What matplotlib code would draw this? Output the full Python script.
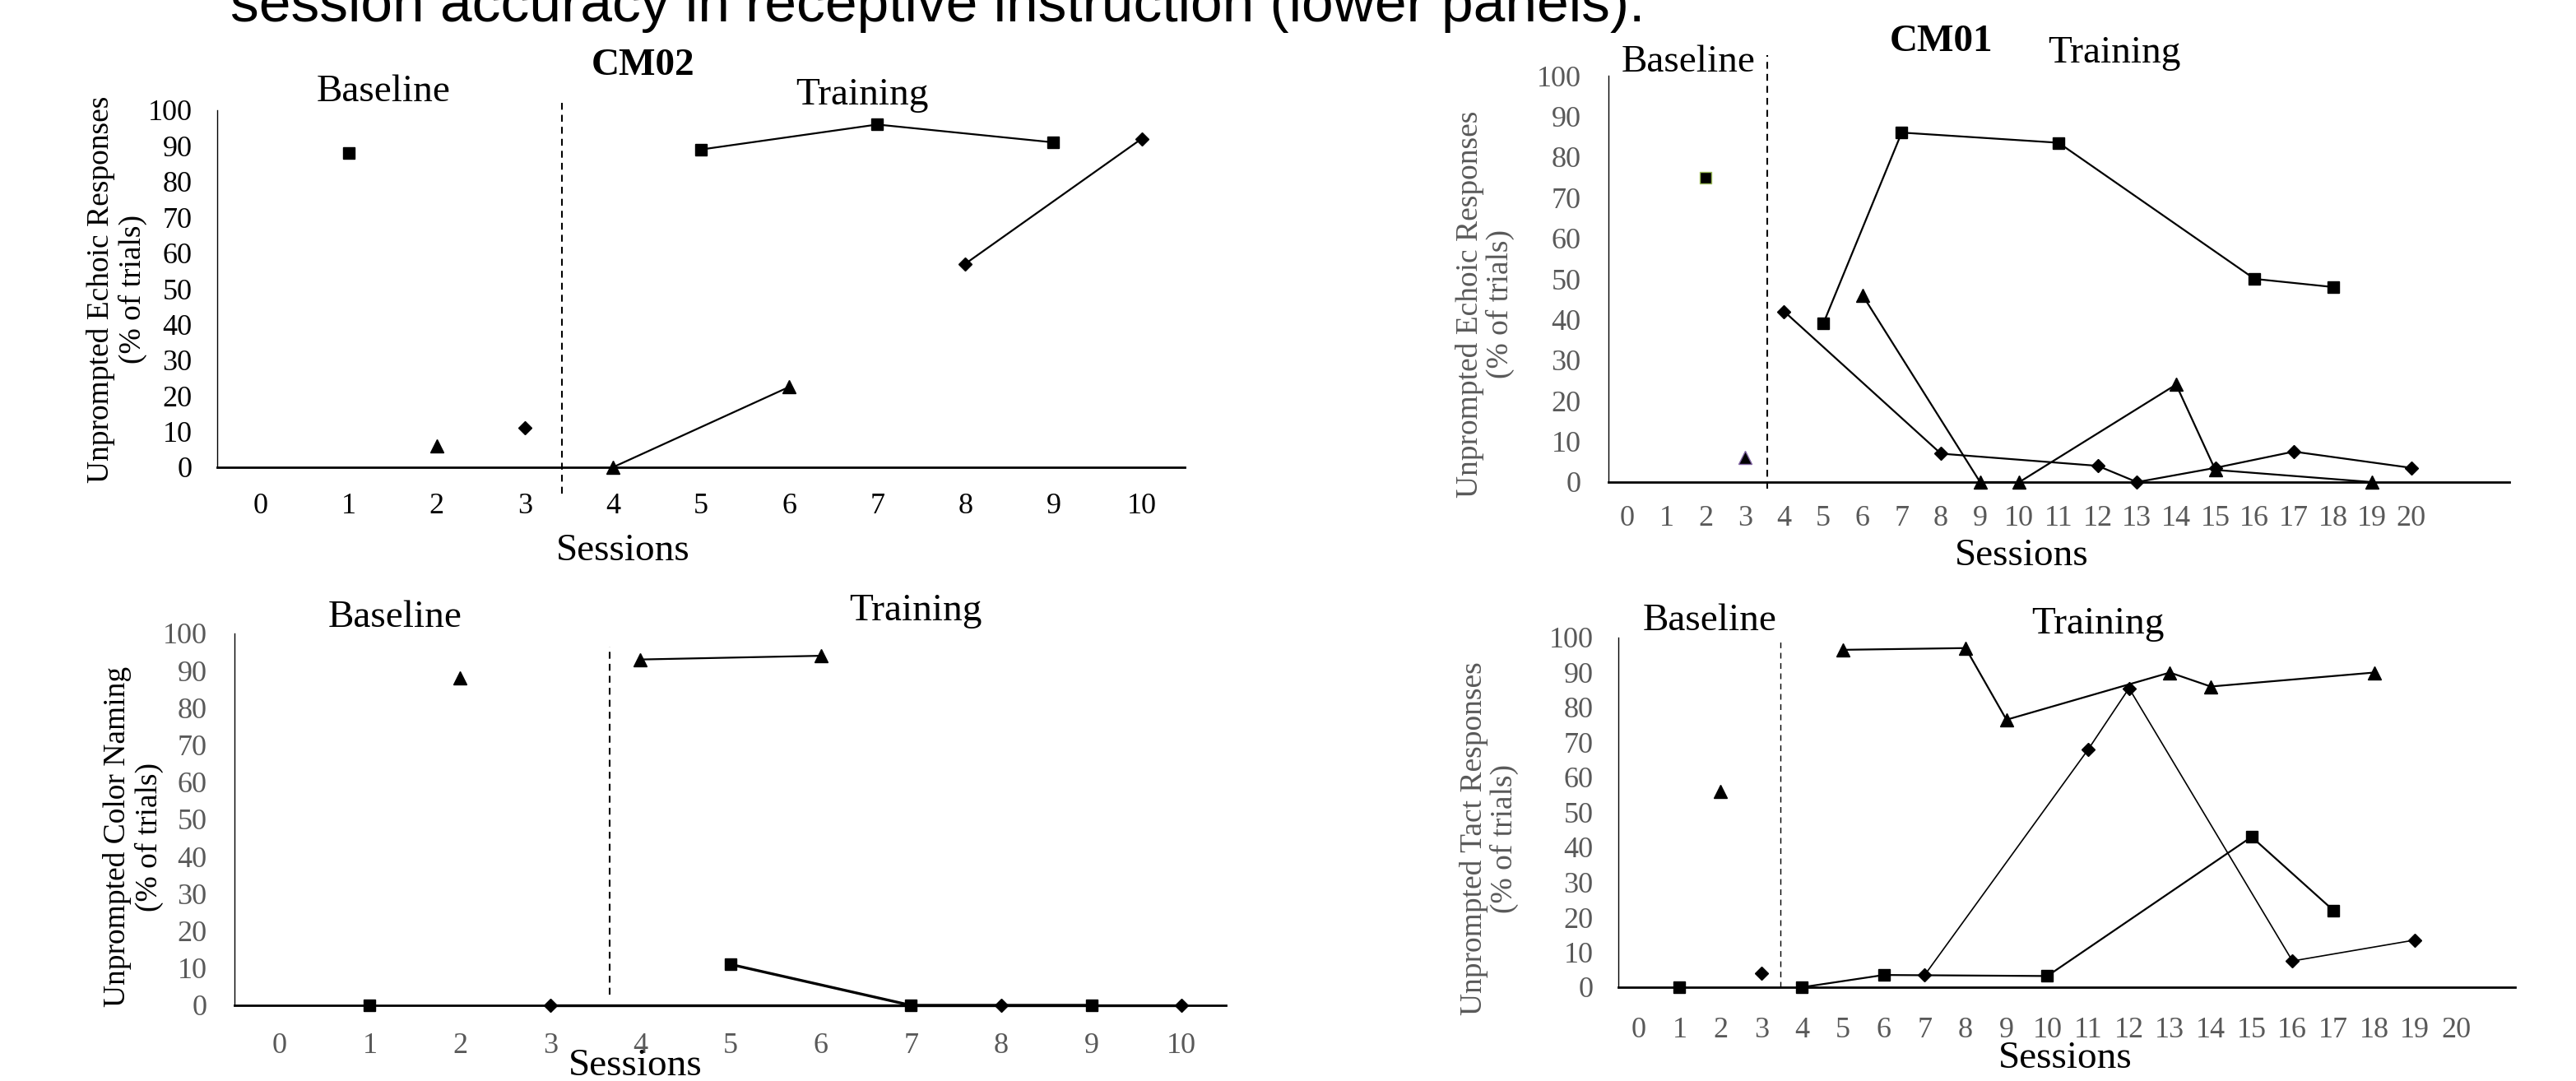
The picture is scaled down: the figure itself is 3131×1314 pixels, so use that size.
import matplotlib
matplotlib.use("Agg")
import matplotlib.pyplot as plt

W, H = 3131, 1314

# ---- data: sessions and % of trials ----
# CM02 - echoic (top left)
cm02_echo_sq_bl_x = [1]
cm02_echo_sq_bl_y = [88]
cm02_echo_sq_x = [5, 7, 9]
cm02_echo_sq_y = [89, 96, 91]
cm02_echo_tri_bl_x = [2]
cm02_echo_tri_bl_y = [6]
cm02_echo_tri_x = [4, 6]
cm02_echo_tri_y = [0, 22.5]
cm02_echo_dia_bl_x = [3]
cm02_echo_dia_bl_y = [11]
cm02_echo_dia_x = [8, 10]
cm02_echo_dia_y = [57, 92]

# CM01 - echoic (top right)
cm01_echo_sq_bl_x = [2]
cm01_echo_sq_bl_y = [75]
cm01_echo_sq_x = [5, 7, 11, 16, 18]
cm01_echo_sq_y = [39, 86, 83.5, 50, 48]
cm01_echo_tri_bl_x = [3]
cm01_echo_tri_bl_y = [6]
cm01_echo_tri_x = [6, 9, 10, 14, 15, 19]
cm01_echo_tri_y = [46, 0, 0, 24, 3, 0]
cm01_echo_dia_x = [4, 8, 12, 13, 15, 17, 20]
cm01_echo_dia_y = [42, 7, 4, 0, 3.5, 7.5, 3.5]

# CM02 - color naming (bottom left)
cm02_col_sq_bl_x = [1]
cm02_col_sq_bl_y = [0]
cm02_col_sq_x = [5, 7, 9]
cm02_col_sq_y = [11, 0, 0]
cm02_col_tri_bl_x = [2]
cm02_col_tri_bl_y = [88]
cm02_col_tri_x = [4, 6]
cm02_col_tri_y = [93, 94]
# diamond line runs on from the baseline point at session 3
cm02_col_dia_x = [3, 8, 10]
cm02_col_dia_y = [0, 0, 0]

# CM01 - tact (bottom right)
cm01_tact_sq_bl_x = [1]
cm01_tact_sq_bl_y = [0]
cm01_tact_sq_x = [4, 6, 10, 15, 17]
cm01_tact_sq_y = [0, 3.5, 3.2, 43, 22]
cm01_tact_tri_bl_x = [2]
cm01_tact_tri_bl_y = [56]
cm01_tact_tri_x = [5, 8, 9, 13, 14, 18]
cm01_tact_tri_y = [96.5, 97, 76.5, 90, 86, 90]
cm01_tact_dia_bl_x = [3]
cm01_tact_dia_bl_y = [4]
cm01_tact_dia_x = [7, 11, 12, 16, 19]
cm01_tact_dia_y = [3.5, 68, 85.5, 7.5, 13.5]

yticks = list(range(0, 101, 10))
GRAY = '#595959'

plt.rcParams['font.family'] = 'Liberation Serif'

fig = plt.figure(figsize=(W / 100, H / 100), dpi=100)


def fx(px):
    return px / W


def fy(py):
    return 1 - py / H


def make_axes(left, right, top, bottom, xmin, xmax, nmax, tick_color, xpad, ypad):
    # axes box given in pixels of the final picture
    ax = fig.add_axes([fx(left), fy(bottom), fx(right - left), (bottom - top) / H])
    ax.set_xlim(xmin, xmax)
    ax.set_ylim(0, 100)
    for s in ['top', 'right']:
        ax.spines[s].set_visible(False)
    ax.spines['left'].set_linewidth(1.0)
    ax.spines['bottom'].set_linewidth(2.0)
    ax.set_xticks(range(0, nmax + 1))
    ax.set_yticks(yticks)
    ax.tick_params(length=0, labelsize=26, colors=tick_color)
    ax.tick_params(axis='x', pad=xpad)
    ax.tick_params(axis='y', pad=ypad)
    return ax


def line(ax, x, y, marker, ms, lw=1.6):
    ax.plot(x, y, color='black', lw=lw, marker=marker, ms=ms, mfc='black',
            mec='black', clip_on=False, zorder=3)


def point(ax, x, y, marker, ms, mec='black'):
    ax.plot(x, y, ls='none', marker=marker, ms=ms, mfc='black', mec=mec,
            clip_on=False, zorder=3)


SQ, TRI, DIA = 9.5, 11, 8.5

# ---- top left: CM02 echoic ----
ax1 = make_axes(264, 1440, 134, 568, -0.49, 10.49, 10, 'black', 22, 22)
ax1.axvline(3.42, ymin=-0.074, ymax=1.021, color='black', lw=1.5, dashes=(4, 3), clip_on=False)
point(ax1, cm02_echo_sq_bl_x, cm02_echo_sq_bl_y, 's', SQ)
point(ax1, cm02_echo_tri_bl_x, cm02_echo_tri_bl_y, '^', TRI)
point(ax1, cm02_echo_dia_bl_x, cm02_echo_dia_bl_y, 'D', DIA)
line(ax1, cm02_echo_sq_x, cm02_echo_sq_y, 's', SQ)
line(ax1, cm02_echo_tri_x, cm02_echo_tri_y, '^', TRI)
line(ax1, cm02_echo_dia_x, cm02_echo_dia_y, 'D', DIA)

# ---- top right: CM01 echoic ----
ax2 = make_axes(1955, 3050, 92, 586, -0.48, 22.5, 20, GRAY, 20, 24)
ax2.axvline(3.57, ymin=-0.016, ymax=1.05, color='black', lw=1.5, dashes=(4, 3), clip_on=False)
point(ax2, cm01_echo_sq_bl_x, cm01_echo_sq_bl_y, 's', SQ, mec='#9BBB59')
point(ax2, cm01_echo_tri_bl_x, cm01_echo_tri_bl_y, '^', TRI, mec='#8064A2')
line(ax2, cm01_echo_sq_x, cm01_echo_sq_y, 's', SQ)
line(ax2, cm01_echo_tri_x, cm01_echo_tri_y, '^', TRI)
line(ax2, cm01_echo_dia_x, cm01_echo_dia_y, 'D', DIA)

# ---- bottom left: CM02 color naming ----
ax3 = make_axes(285, 1490, 770, 1222, -0.50, 10.49, 10, GRAY, 24, 24)
ax3.axvline(3.66, ymin=0.029, ymax=0.965, color='black', lw=1.5, dashes=(4, 3), clip_on=False)
point(ax3, cm02_col_sq_bl_x, cm02_col_sq_bl_y, 's', SQ)
point(ax3, cm02_col_tri_bl_x, cm02_col_tri_bl_y, '^', TRI)
line(ax3, cm02_col_dia_x, cm02_col_dia_y, 'D', DIA, lw=2.4)
line(ax3, cm02_col_sq_x, cm02_col_sq_y, 's', SQ, lw=2.4)
line(ax3, cm02_col_tri_x, cm02_col_tri_y, '^', TRI)

# ---- bottom right: CM01 tact ----
ax4 = make_axes(1967, 3057, 775, 1200, -0.50, 21.45, 20, GRAY, 26, 22)
ax4.axvline(3.46, ymin=0, ymax=0.998, color='black', lw=1.0, dashes=(5, 4), clip_on=False)
point(ax4, cm01_tact_sq_bl_x, cm01_tact_sq_bl_y, 's', SQ)
point(ax4, cm01_tact_tri_bl_x, cm01_tact_tri_bl_y, '^', TRI)
point(ax4, cm01_tact_dia_bl_x, cm01_tact_dia_bl_y, 'D', DIA)
line(ax4, cm01_tact_tri_x, cm01_tact_tri_y, '^', TRI)
line(ax4, cm01_tact_dia_x, cm01_tact_dia_y, 'D', DIA, lw=1.2)
line(ax4, cm01_tact_sq_x, cm01_tact_sq_y, 's', SQ)


# ---- texts ----
def label(px, py, s, size=34, **kw):
    fig.text(fx(px), fy(py), s, ha='center', va='center', fontsize=size, **kw)


ylab = '\n(% of trials)'
label(782, 80, 'CM02', weight='bold')
label(466, 112, 'Baseline')
label(1048, 116, 'Training')
label(757, 670, 'Sessions')
label(142, 352, 'Unprompted Echoic Responses' + ylab, size=27, rotation=90, linespacing=1.15)

label(2360, 51, 'CM01', weight='bold')
label(2052, 76, 'Baseline')
label(2570, 65, 'Training')
label(2457, 676, 'Sessions')
label(1805, 370, 'Unprompted Echoic Responses' + ylab, size=27, rotation=90,
      linespacing=1.1, color=GRAY)

label(480, 751, 'Baseline')
label(1113, 743, 'Training')
label(772, 1296, 'Sessions')
label(162, 1017, 'Unprompted Color Naming' + ylab, size=27, rotation=90, linespacing=1.15)

label(2078, 755, 'Baseline')
label(2550, 759, 'Training')
label(2510, 1287, 'Sessions')
label(1810, 1019, 'Unprompted Tact Responses' + ylab, size=27, rotation=90,
      linespacing=1.1, color=GRAY)

# caption line cut off at the top of the page
fig.text(fx(280), fy(26), 'session accuracy in receptive instruction (lower panels).',
         ha='left', va='baseline', fontsize=50, family='Liberation Sans')

fig.savefig('out.png', dpi=100)
